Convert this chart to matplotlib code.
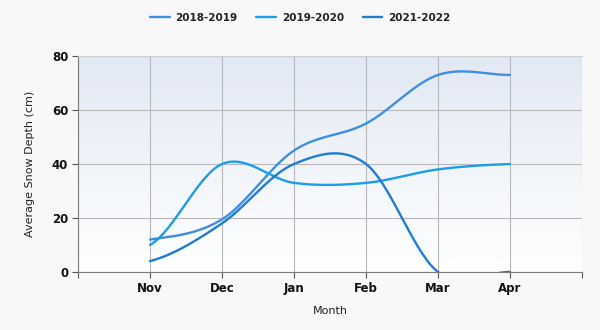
import numpy as np
import matplotlib
matplotlib.use('Agg')
import matplotlib.pyplot as plt

months = ['Nov', 'Dec', 'Jan', 'Feb', 'Mar', 'Apr']
depth_2018_2019 = [12, 19.5, 45, 55, 73, 73]
depth_2019_2020 = [10, 40, 33, 33, 38, 40]
depth_2021_2022 = [4, 18, 40, 40, 0, 0]

series = [('2018-2019', depth_2018_2019, '#3f8ee2'),
          ('2019-2020', depth_2019_2020, '#1c9de8'),
          ('2021-2022', depth_2021_2022, '#1f7dd6')]


def smooth(y, n=60):
    # catmull-rom through the points
    y = np.asarray(y, float)
    m = np.zeros_like(y)
    m[1:-1] = (y[2:] - y[:-2]) / 2
    m[0] = (y[1] - y[0]) / 2
    m[-1] = (y[-1] - y[-2]) / 2
    xs, ys = [], []
    for i in range(len(y) - 1):
        t = np.linspace(0, 1, n)
        h00 = 2*t**3 - 3*t**2 + 1
        h10 = t**3 - 2*t**2 + t
        h01 = -2*t**3 + 3*t**2
        h11 = t**3 - t**2
        xs.append(i + t)
        ys.append(h00*y[i] + h10*m[i] + h01*y[i+1] + h11*m[i+1])
    return np.concatenate(xs), np.concatenate(ys)


fig = plt.figure(figsize=(6, 3.3), dpi=100, facecolor='#f8f8f8')
ax = fig.add_axes([0.13, 0.176, 0.84, 0.654])

# gradient plot background
grad = np.linspace(0, 1, 256).reshape(-1, 1)
cmap = matplotlib.colors.LinearSegmentedColormap.from_list('bg', ['#ffffff', '#e2e9f4'])
ax.imshow(grad, aspect='auto', cmap=cmap, origin='lower',
          extent=[-1, 6, 0, 80], zorder=0)

for name, vals, col in series:
    x, y = smooth(vals)
    ax.plot(x, y, color=col, lw=1.7, label=name, zorder=3, solid_capstyle='round')

ax.set_xlim(-1, 6)
ax.set_ylim(0, 80)
ax.set_xticks(range(-1, 7))
ax.set_xticklabels([''] + months + [''])
ax.set_yticks(range(0, 81, 20))
ax.grid(True, color='#b8b8b8', lw=0.8, zorder=1)
ax.set_axisbelow(True)

ax.spines['right'].set_visible(False)
ax.spines['top'].set_color('#d0d0d0')
ax.spines['left'].set_color('#7a7a7a')
ax.spines['bottom'].set_color('#7a7a7a')
ax.tick_params(axis='both', length=4, color='#555555', direction='out',
               labelsize=8.5, labelcolor='#111111', pad=3)
for lbl in ax.get_xticklabels() + ax.get_yticklabels():
    lbl.set_fontweight('bold')

ax.set_xlabel('Month', fontsize=8, color='#222222', labelpad=8)
ax.set_ylabel('Average Snow Depth (cm)', fontsize=8, color='#222222', labelpad=12)

leg = fig.legend(loc='upper center', bbox_to_anchor=(0.5, 0.99), ncol=3, frameon=False,
                 prop={'size': 7.5, 'weight': 'bold'}, handlelength=1.9,
                 handletextpad=0.55, columnspacing=1.8)
for t in leg.get_texts():
    t.set_color('#222222')

fig.savefig('out.png', dpi=100, facecolor=fig.get_facecolor())
